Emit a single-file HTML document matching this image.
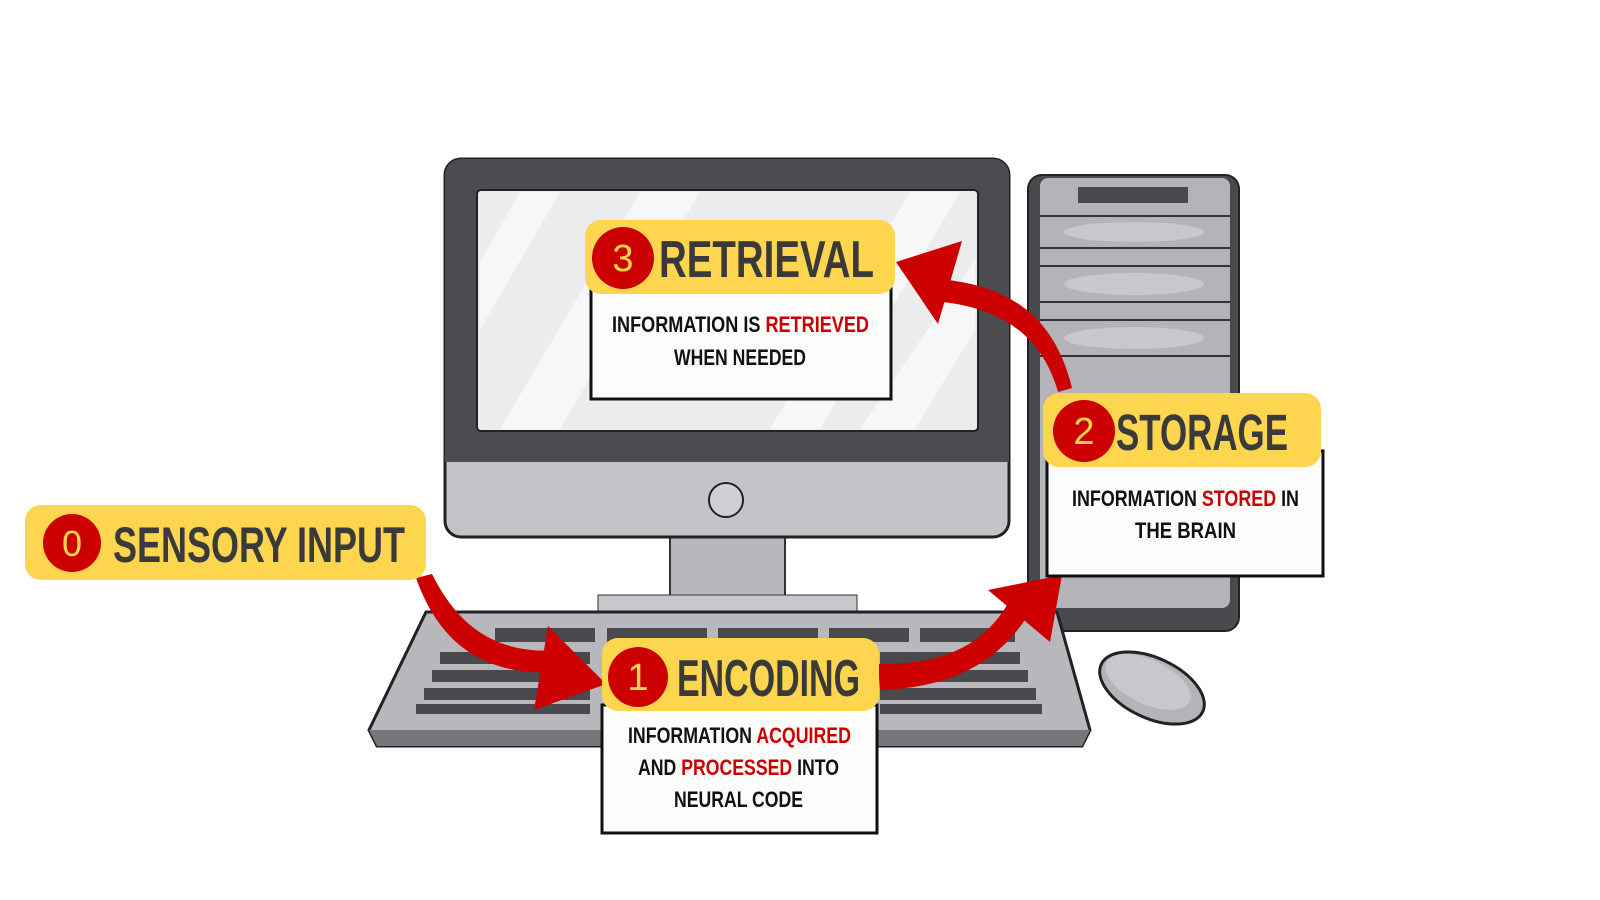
<!DOCTYPE html>
<html><head><meta charset="utf-8"><style>
html,body{margin:0;padding:0;background:#fff;}
body{width:1600px;height:900px;position:relative;overflow:hidden;}
svg text{font-family:"Liberation Sans",sans-serif;font-weight:bold;}
</style></head><body>
<svg width="1600" height="900" style="position:absolute;left:0;top:0">
 <!-- tower -->
 <rect x="1028" y="175" width="211" height="456" rx="14" fill="#4a4a4e" stroke="#222" stroke-width="2"/>
 <rect x="1040" y="178" width="190" height="430" rx="8" fill="#b4b4b8"/>
 <rect x="1078" y="187" width="110" height="16" fill="#4a4a4e"/>
 <g stroke="#333" stroke-width="2">
  <line x1="1040" y1="216" x2="1230" y2="216"/><line x1="1040" y1="248" x2="1230" y2="248"/>
  <line x1="1040" y1="266" x2="1230" y2="266"/><line x1="1040" y1="302" x2="1230" y2="302"/>
  <line x1="1040" y1="320" x2="1230" y2="320"/><line x1="1040" y1="356" x2="1230" y2="356"/>
 </g>
 <g fill="#c8c8cc"><ellipse cx="1134" cy="232" rx="70" ry="10"/><ellipse cx="1134" cy="284" rx="70" ry="11"/><ellipse cx="1134" cy="338" rx="70" ry="11"/></g>
 <!-- mouse -->
 <ellipse cx="1152" cy="688" rx="56" ry="30" transform="rotate(25 1152 688)" fill="#b4b4b8" stroke="#222" stroke-width="3"/>
 <ellipse cx="1148" cy="682" rx="46" ry="22" transform="rotate(25 1148 682)" fill="#c8c8cc"/>
 <!-- stand -->
 <rect x="670" y="535" width="115" height="64" fill="#b8b8bc" stroke="#333" stroke-width="2"/>
 <rect x="598" y="595" width="259" height="18" fill="#c8c8cc" stroke="#333" stroke-width="1"/>
 <!-- keyboard -->
 <polygon points="426,612 1057,612 1090,730 1082,746 377,746 369,730" fill="#b8b8bc" stroke="#222" stroke-width="3"/>
 <polygon points="369,730 1090,730 1082,746 377,746" fill="#77777b"/>
 <g fill="#4a4a4e">
  <rect x="495" y="628" width="100" height="14"/><rect x="607" y="628" width="100" height="14"/><rect x="718" y="628" width="100" height="14"/><rect x="829" y="628" width="80" height="14"/><rect x="920" y="628" width="95" height="14"/>
  <rect x="440" y="652" width="150" height="12"/><rect x="432" y="670" width="158" height="12"/><rect x="424" y="688" width="166" height="12"/><rect x="416" y="704" width="174" height="10"/>
  <rect x="880" y="652" width="140" height="12"/><rect x="880" y="670" width="148" height="12"/><rect x="880" y="688" width="156" height="12"/><rect x="880" y="704" width="162" height="10"/>
 </g>
 <!-- monitor -->
 <rect x="445" y="159" width="564" height="378" rx="16" fill="#c4c4c8" stroke="#222" stroke-width="3"/>
 <path d="M461 159 H993 a16 16 0 0 1 16 16 V462 H445 V175 a16 16 0 0 1 16 -16z" fill="#4c4c50"/>
 <rect x="477" y="190" width="501" height="241" rx="4" fill="#ececef" stroke="#222" stroke-width="2"/>
 <g fill="#f7f7f9">
  <polygon points="520,192 560,192 480,330 480,262"/><polygon points="640,192 700,192 560,429 500,429"/>
  <polygon points="910,192 960,192 820,429 770,429"/><polygon points="975,260 975,330 915,429 860,429"/>
 </g>
 <circle cx="726" cy="500" r="17" fill="#d0d0d4" stroke="#222" stroke-width="2"/>
 <!-- arrows -->
 <g fill="#cc0000">
  <path d="M416 578 C440 645 485 678 565 672 L560 650 C500 655 460 630 432 574 Z"/>
  <polygon points="606,684 548,626 534,710"/>
  <path d="M878 664 C935 665 985 650 1012 596 L1030 612 C995 670 940 688 880 690 Z"/>
  <polygon points="1062,575 988,590 1050,642"/>
  <path d="M1072 388 C1055 318 1012 288 948 280 L942 302 C1000 308 1042 335 1058 392 Z"/>
  <polygon points="896,262 962,241 938,324"/>
 </g>

 <!-- sensory -->
 <rect x="25" y="505" width="401" height="75" rx="16" fill="#fdd54f"/>
 <circle cx="72" cy="543" r="29" fill="#cc0000"/>
 <text x="72" y="556" text-anchor="middle" font-size="36" fill="#fdd54f" style="font-weight:normal">0</text>
 <text x="113" y="562" font-size="50" fill="#3a3a3a" textLength="292" lengthAdjust="spacingAndGlyphs">SENSORY INPUT</text>

 <!-- encoding -->
 <rect x="602" y="705" width="275" height="128" fill="#fcfcfa" stroke="#111" stroke-width="3"/>
 <rect x="602" y="638" width="277" height="73" rx="16" fill="#fdd54f"/>
 <circle cx="638" cy="677" r="30" fill="#cc0000"/>
 <text x="638" y="690" text-anchor="middle" font-size="38" fill="#fdd54f" style="font-weight:normal">1</text>
 <text x="677" y="696" font-size="52" fill="#3a3a3a" textLength="183" lengthAdjust="spacingAndGlyphs">ENCODING</text>
 <g font-size="22" fill="#111">
  <text x="628" y="743" textLength="223" lengthAdjust="spacingAndGlyphs">INFORMATION <tspan fill="#cc0000">ACQUIRED</tspan></text>
  <text x="638" y="775" textLength="201" lengthAdjust="spacingAndGlyphs">AND <tspan fill="#cc0000">PROCESSED</tspan> INTO</text>
  <text x="674" y="807" textLength="129" lengthAdjust="spacingAndGlyphs">NEURAL CODE</text>
 </g>

 <!-- storage -->
 <rect x="1047" y="451" width="276" height="125" fill="#fcfcfa" stroke="#111" stroke-width="3"/>
 <rect x="1043" y="393" width="278" height="74" rx="16" fill="#fdd54f"/>
 <circle cx="1084" cy="431" r="31" fill="#cc0000"/>
 <text x="1084" y="444" text-anchor="middle" font-size="38" fill="#fdd54f" style="font-weight:normal">2</text>
 <text x="1116" y="450" font-size="51" fill="#3a3a3a" textLength="172" lengthAdjust="spacingAndGlyphs">STORAGE</text>
 <g font-size="22" fill="#111">
  <text x="1072" y="506" textLength="227" lengthAdjust="spacingAndGlyphs">INFORMATION <tspan fill="#cc0000">STORED</tspan> IN</text>
  <text x="1135" y="538" textLength="101" lengthAdjust="spacingAndGlyphs">THE BRAIN</text>
 </g>

 <!-- retrieval -->
 <rect x="591" y="288" width="300" height="111" fill="#fcfcfa" stroke="#111" stroke-width="3"/>
 <rect x="585" y="220" width="310" height="74" rx="16" fill="#fdd54f"/>
 <circle cx="623" cy="258" r="31" fill="#cc0000"/>
 <text x="623" y="271" text-anchor="middle" font-size="38" fill="#fdd54f" style="font-weight:normal">3</text>
 <text x="659" y="277" font-size="52" fill="#3a3a3a" textLength="215" lengthAdjust="spacingAndGlyphs">RETRIEVAL</text>
 <g font-size="22" fill="#111">
  <text x="612" y="332" textLength="257" lengthAdjust="spacingAndGlyphs">INFORMATION IS <tspan fill="#cc0000">RETRIEVED</tspan></text>
  <text x="674" y="365" textLength="132" lengthAdjust="spacingAndGlyphs">WHEN NEEDED</text>
 </g>
</svg>
</body></html>
